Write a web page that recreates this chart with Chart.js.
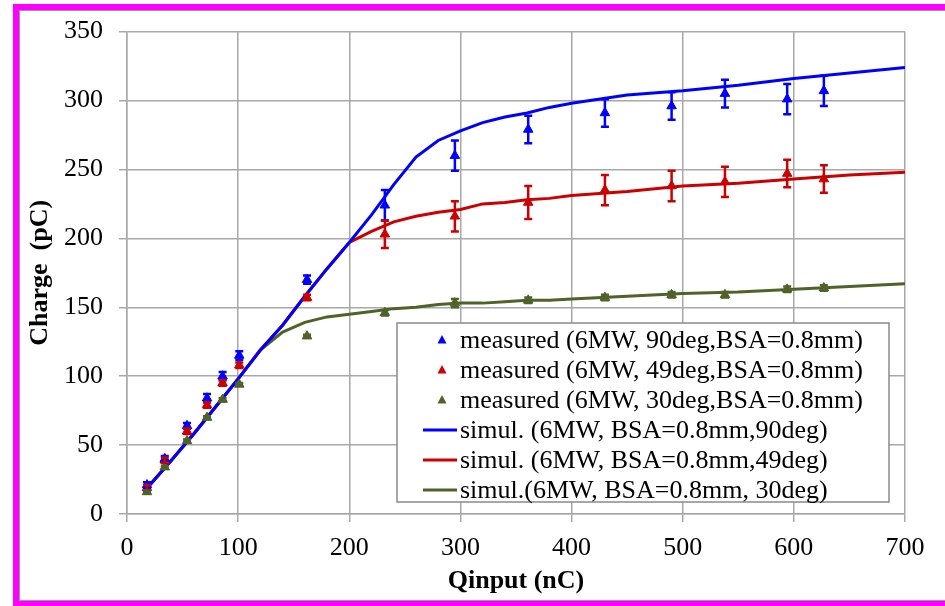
<!DOCTYPE html>
<html>
<head>
<meta charset="utf-8">
<script src="https://cdn.jsdelivr.net/npm/chart.js@4.4.0/dist/chart.umd.min.js"></script>
<style>
  html, body { margin: 0; background: #fff; overflow: hidden; }
  #page { position: relative; width: 945px; height: 606px; overflow: hidden; }
  #frame { position: absolute; left: 13px; top: 4px; width: 960px; height: 591px;
           border: 6px solid #ff00ff; box-shadow: inset 0 0 0 1px #9a9a9a; }
  #wrap { position: absolute; left: 0; top: 0; width: 945px; height: 606px; }
</style>
</head>
<body>
<div id="page">
<div id="frame"></div>
<div id="wrap"><canvas id="chargeChart" width="945" height="606"></canvas></div>
</div>
<script>
// measured charge vs input charge, three laser angles
const qMeasured = [18, 34, 54, 72, 86, 101, 162, 232, 295, 361, 430, 490, 538, 594, 627];
const meas90 = [21, 40, 64, 84, 100, 115, 170, 224, 260, 279, 291, 296, 305, 301, 307];
const err90  = [2, 2, 2, 3, 3, 3, 3, 11, 11, 10, 10, 10, 10, 11, 11];
const meas49 = [19, 39, 60, 79, 95, 108, 157, 203, 216, 226, 235, 238, 241, 247, 243];
const err49  = [2, 2, 2, 2, 2, 2, 2, 10, 11, 12, 11, 11, 11, 10, 10];
const meas30 = [16, 34, 53, 70, 83, 94, 129, 146, 153, 155, 157, 159, 159, 163, 164];
const err30  = [1, 1, 1, 1, 1, 1, 1, 2, 3, 2, 2, 2, 2, 2, 2];

// simulation curves
const qSimul = [15, 40, 60, 80, 100, 120, 140, 160, 180, 200, 220, 240, 260, 280, 300, 320, 340, 360, 380, 400, 450, 500, 550, 600, 650, 700];
const sim90 = [16, 39, 58, 78, 98, 119, 137, 158, 178, 197, 217, 239, 259, 271, 278, 284, 288, 291, 295, 298, 304, 307, 311, 316, 320, 324];
const sim49 = [16, 39, 58, 78, 98, 119, 137, 158, 178, 197, 205, 212, 216, 219, 221, 225, 226, 228, 229, 231, 234, 238, 240, 243, 246, 248];
const sim30 = [16, 39, 58, 78, 98, 119, 132, 139, 143, 145, 147, 149, 150, 152, 153, 153, 154, 155, 155, 156, 158, 160, 161, 163, 165, 167];

const seriesLabels = [
  'measured (6MW, 90deg,BSA=0.8mm)',
  'measured (6MW, 49deg,BSA=0.8mm)',
  'measured (6MW, 30deg,BSA=0.8mm)',
  'simul. (6MW, BSA=0.8mm,90deg)',
  'simul. (6MW, BSA=0.8mm,49deg)',
  'simul.(6MW, BSA=0.8mm, 30deg)'
];
const blue = '#0000ff', red = '#cc0000', green = '#4f6228';
const serif = 'Liberation Serif';

const pts = (xs, ys) => xs.map((x, i) => ({ x: x, y: ys[i] }));

function measured(label, ys, errs, color) {
  return { label: label, data: pts(qMeasured, ys), errors: errs,
    pointStyle: 'triangle', pointRadius: 5.5, pointBackgroundColor: color,
    pointBorderColor: color, borderColor: color, showLine: false };
}
function simul(label, ys, color) {
  return { label: label, data: pts(qSimul, ys), showLine: true, borderColor: color,
    borderWidth: 3, pointRadius: 0, tension: 0 };
}

// vertical error bars with caps
const errorBars = {
  id: 'errorBars',
  afterDatasetsDraw(chart) {
    const { ctx, scales: { x, y } } = chart;
    chart.data.datasets.forEach(ds => {
      if (!ds.errors) return;
      ctx.save();
      ctx.strokeStyle = ds.borderColor;
      ctx.lineWidth = 2.5;
      ds.data.forEach((p, i) => {
        const px = x.getPixelForValue(p.x);
        const top = y.getPixelForValue(p.y + ds.errors[i]);
        const bot = y.getPixelForValue(p.y - ds.errors[i]);
        ctx.beginPath();
        ctx.moveTo(px, top); ctx.lineTo(px, bot);
        ctx.moveTo(px - 4, top); ctx.lineTo(px + 4, top);
        ctx.moveTo(px - 4, bot); ctx.lineTo(px + 4, bot);
        ctx.stroke();
      });
      ctx.restore();
    });
  }
};

// boxed legend sitting inside the plot
const boxLegend = {
  id: 'boxLegend',
  afterDraw(chart) {
    const ctx = chart.ctx;
    const left = 397, top = 323, w = 492, h = 179;
    ctx.save();
    ctx.fillStyle = '#fff';
    ctx.fillRect(left, top, w, h);
    ctx.strokeStyle = '#8a8a8a';
    ctx.lineWidth = 1.5;
    ctx.strokeRect(left, top, w, h);
    ctx.font = '26px "' + serif + '"';
    ctx.textBaseline = 'middle';
    chart.data.datasets.forEach((ds, i) => {
      const cy = top + 17 + i * 30;
      if (ds.showLine) {
        ctx.strokeStyle = ds.borderColor;
        ctx.lineWidth = 3;
        ctx.beginPath(); ctx.moveTo(423, cy); ctx.lineTo(457, cy); ctx.stroke();
      } else {
        ctx.fillStyle = ds.pointBackgroundColor;
        ctx.beginPath();
        ctx.moveTo(442, cy - 5); ctx.lineTo(446.5, cy + 3.5); ctx.lineTo(437.5, cy + 3.5);
        ctx.closePath(); ctx.fill();
      }
      ctx.fillStyle = '#000';
      ctx.fillText(ds.label, 460, cy + 1);
    });
    ctx.restore();
  }
};

const gridStyle = { color: '#a8a8a8', lineWidth: 1.5, tickLength: 8 };

new Chart(document.getElementById('chargeChart'), {
  type: 'scatter',
  data: {
    datasets: [
      measured(seriesLabels[0], meas90, err90, blue),
      measured(seriesLabels[1], meas49, err49, red),
      measured(seriesLabels[2], meas30, err30, green),
      simul(seriesLabels[3], sim90, blue),
      simul(seriesLabels[4], sim49, red),
      simul(seriesLabels[5], sim30, green)
    ]
  },
  options: {
    responsive: false,
    animation: false,
    layout: { padding: { left: 0, top: 27, right: 40, bottom: 0 } },
    plugins: { legend: { display: false }, tooltip: { enabled: false } },
    scales: {
      x: {
        type: 'linear', min: 0, max: 700,
        ticks: { stepSize: 100, color: '#000', padding: 11, maxRotation: 0,
                 font: { family: serif, size: 26 } },
        grid: gridStyle,
        border: { color: '#a8a8a8', width: 1.5 },
        title: { display: true, text: 'Qinput (nC)', color: '#000',
                 font: { family: serif, size: 26, weight: 'bold' }, padding: { top: 0, bottom: 9 } },
        afterFit(s) { s.height = 92; }
      },
      y: {
        min: 0, max: 350,
        ticks: { stepSize: 50, color: '#000', padding: 16,
                 font: { family: serif, size: 26 } },
        grid: gridStyle,
        border: { color: '#a8a8a8', width: 1.5 },
        title: { display: true, text: 'Charge  (pC)', color: '#000',
                 font: { family: serif, size: 26, weight: 'bold' }, padding: { top: 25, bottom: 0 } },
        afterFit(s) { s.width = 127; }
      }
    }
  },
  plugins: [errorBars, boxLegend]
});
</script>
</body>
</html>
